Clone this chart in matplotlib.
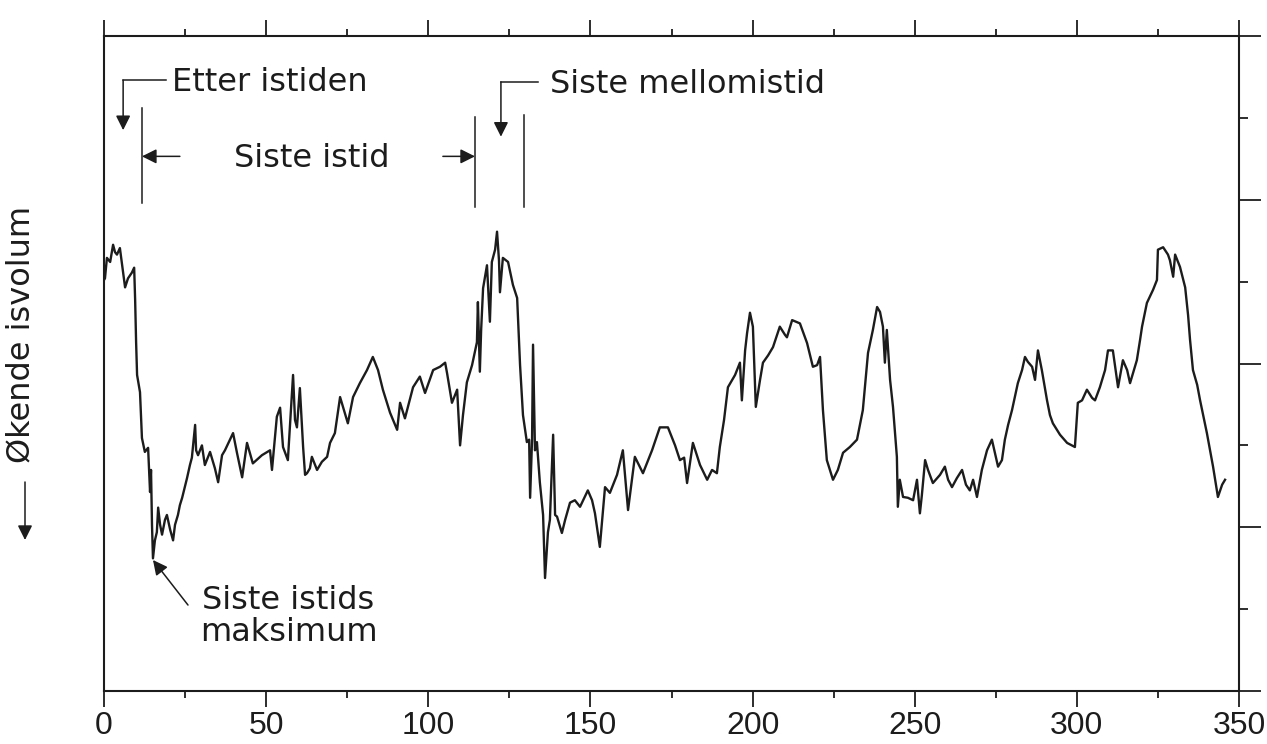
import matplotlib
matplotlib.use("Agg")
import matplotlib.pyplot as plt
from matplotlib.ticker import MultipleLocator

# ---------------- data ----------------
# age in thousand years before present
age_ka = [
    0.0, 0.3, 0.9, 1.9, 2.8, 3.4, 4.0, 4.9, 5.6, 6.5, 7.4, 8.6, 9.3, 9.6, 9.9, 10.2,
    11.1, 11.7, 12.6, 13.6, 14.2, 14.5, 14.8, 15.1, 15.7, 16.3, 16.7, 17.3, 17.9, 18.8,
    19.4, 20.4, 21.3, 21.9, 22.8, 23.4, 24.1, 25.6, 26.5, 27.1, 28.1, 28.4, 29.0, 30.2,
    31.1, 32.7, 34.2, 35.2, 36.4, 37.3, 39.8, 41.0, 42.6, 44.1, 45.9, 48.7, 51.2, 51.8,
    53.3, 54.3, 55.2, 56.7, 58.3, 58.9, 59.5, 60.4, 61.4, 62.0, 62.6, 63.5, 64.1, 65.7,
    67.2, 68.8, 69.7, 71.2, 72.8, 74.0, 75.2, 76.8, 78.9, 81.1, 82.9, 84.5, 86.0, 88.2,
    90.4, 91.3, 92.8, 95.3, 97.4, 99.0, 101.5, 103.6, 105.2, 105.8, 107.3, 108.9, 109.8,
    110.7, 111.9, 113.5, 115.0, 115.3, 115.9, 116.3, 116.9, 118.1, 119.0, 119.6, 120.6,
    121.2, 121.8, 122.1, 123.0, 124.6, 126.1, 127.4, 128.3, 129.2, 130.4, 131.1, 131.4,
    132.0, 132.3, 132.9, 133.5, 134.4, 135.4, 136.0, 136.9, 137.5, 138.5, 139.1, 139.7,
    141.2, 142.2, 143.7, 145.2, 146.8, 149.2, 150.5, 151.4, 152.9, 154.5, 156.0, 158.2,
    160.0, 161.6, 163.7, 166.2, 169.0, 171.4, 173.9, 176.1, 177.6, 178.9, 179.8, 181.6,
    183.8, 186.0, 187.5, 189.0, 189.9, 191.2, 192.4, 194.6, 196.1, 196.7, 197.7, 198.3,
    199.2, 200.1, 201.0, 202.3, 203.2, 204.8, 206.3, 208.4, 210.0, 210.6, 212.2, 214.6,
    216.8, 218.6, 219.9, 220.8, 221.7, 222.9, 224.8, 226.3, 227.9, 230.0, 232.2, 234.0,
    235.6, 237.1, 238.4, 239.3, 240.2, 240.8, 241.4, 242.4, 243.3, 244.5, 244.8, 245.4,
    246.4, 247.9, 249.5, 250.7, 251.6, 252.2, 253.2, 254.1, 255.6, 257.8, 259.3, 260.3,
    261.5, 263.0, 264.6, 265.8, 267.0, 268.0, 269.2, 270.7, 272.3, 273.8, 275.7, 276.9,
    277.8, 278.8, 280.0, 281.8, 283.1, 284.0, 284.9, 286.2, 287.1, 288.0, 289.2, 290.8,
    291.7, 292.6, 294.8, 297.0, 299.4, 300.3, 301.6, 303.1, 304.7, 305.6, 307.1, 308.7,
    309.6, 311.1, 312.7, 314.2, 315.5, 316.4, 318.5, 319.5, 320.1, 321.6, 323.5, 324.7,
    325.0, 326.6, 328.1, 328.7, 329.7, 330.3, 331.8, 333.4, 334.3, 334.9, 335.8, 337.1,
    338.0, 340.1, 342.0, 343.5, 344.8, 345.7,
]
# isotope signal (arbitrary units, downwards = more ice)
signal = [
    5.02, 5.04, 5.29, 5.24, 5.45, 5.36, 5.33, 5.41, 5.20, 4.93, 5.04, 5.11, 5.17, 4.78, 4.26, 3.86,
    3.65, 3.09, 2.92, 2.97, 2.43, 2.70, 2.03, 1.62, 1.84, 1.94, 2.24, 2.03, 1.91, 2.09,
    2.15, 1.97, 1.84, 2.03, 2.15, 2.27, 2.36, 2.60, 2.76, 2.85, 3.25, 2.94, 2.88, 3.00,
    2.76, 2.92, 2.72, 2.55, 2.88, 2.94, 3.15, 2.91, 2.61, 3.03, 2.78, 2.88, 2.94, 2.70,
    3.35, 3.46, 2.98, 2.82, 3.86, 3.31, 3.22, 3.70, 2.98, 2.64, 2.66, 2.72, 2.86, 2.70,
    2.80, 2.86, 3.03, 3.15, 3.59, 3.43, 3.27, 3.59, 3.76, 3.92, 4.08, 3.92, 3.68, 3.40,
    3.19, 3.52, 3.33, 3.71, 3.84, 3.64, 3.92, 3.96, 4.01, 3.88, 3.52, 3.68, 3.00,
    3.37, 3.77, 3.98, 4.26, 4.75, 3.90, 4.41, 4.92, 5.20, 4.51, 5.24, 5.39,
    5.61, 5.26, 4.87, 5.29, 5.24, 4.96, 4.80, 3.98, 3.37, 3.04, 3.07, 2.36,
    3.07, 4.23, 2.94, 3.04, 2.55, 2.15, 1.38, 1.94, 2.09, 3.13, 2.15, 2.13,
    1.93, 2.09, 2.30, 2.33, 2.25, 2.45, 2.33, 2.17, 1.76, 2.49, 2.42, 2.64,
    2.94, 2.21, 2.86, 2.66, 2.94, 3.22, 3.22, 3.00, 2.82, 2.85, 2.54, 3.03,
    2.76, 2.58, 2.70, 2.66, 2.98, 3.31, 3.71, 3.86, 4.01, 3.55, 4.16, 4.37,
    4.62, 4.45, 3.47, 3.80, 4.01, 4.10, 4.20, 4.45, 4.35, 4.32, 4.53, 4.49,
    4.25, 3.96, 3.98, 4.08, 3.43, 2.82, 2.58, 2.70, 2.91, 2.98, 3.07, 3.43,
    4.13, 4.41, 4.69, 4.63, 4.45, 4.01, 4.41, 3.80, 3.47, 2.86, 2.25, 2.58,
    2.37, 2.36, 2.33, 2.58, 2.17, 2.39, 2.82, 2.70, 2.54, 2.64, 2.74, 2.58,
    2.49, 2.60, 2.70, 2.52, 2.45, 2.58, 2.37, 2.70, 2.94, 3.07, 2.74, 2.82,
    3.07, 3.25, 3.43, 3.76, 3.92, 4.08, 4.02, 3.96, 3.80, 4.16, 3.92, 3.55,
    3.37, 3.27, 3.13, 3.03, 2.98, 3.52, 3.55, 3.68, 3.58, 3.55, 3.71, 3.92,
    4.16, 4.16, 3.71, 4.04, 3.92, 3.76, 4.04, 4.29, 4.45, 4.74, 4.90, 5.02,
    5.39, 5.42, 5.33, 5.26, 5.06, 5.33, 5.18, 4.93, 4.59, 4.29, 3.92, 3.74,
    3.55, 3.15, 2.74, 2.37, 2.52, 2.58,
]

x_major = [0, 50, 100, 150, 200, 250, 300, 350]
x_labels = ["0", "50", "100", "150", "200", "250", "300", "350"]

# period markers (ka)
holocene_start = 11.7
glacial_end = 114.4
interglacial_end = 129.5

INK = "#1c1c1c"
W, H = 1267, 744

fig = plt.figure(figsize=(W / 100, H / 100), dpi=100)
fig.patch.set_facecolor("white")
ax = fig.add_axes([104 / W, 1 - 691 / H, (1239 - 104) / W, (691 - 36) / H])

ax.plot(age_ka, signal, color=INK, lw=1.7, solid_joinstyle="round")

ax.set_xlim(0, 350)
ax.set_ylim(0, 8)

for s in ax.spines.values():
    s.set_linewidth(1.5)
    s.set_color(INK)

ax.set_xticks(x_major)
ax.set_xticklabels(x_labels, fontfamily="Liberation Sans", fontsize=23, color=INK)
ax.xaxis.set_minor_locator(MultipleLocator(25))
ax.tick_params(axis="x", which="major", direction="out", length=11.5, width=1.3,
               top=True, bottom=True, pad=3, colors=INK)
ax.tick_params(axis="x", which="minor", direction="out", length=5, width=1.3,
               top=True, bottom=True, colors=INK)

ax.set_yticks([0, 2, 4, 6, 8])
ax.set_yticks([1, 3, 5, 7], minor=True)
ax.tick_params(axis="y", which="major", left=False, right=True, labelleft=False,
               labelright=False, direction="out", length=16, width=1.3, colors=INK)
ax.tick_params(axis="y", which="minor", left=False, right=True, direction="out",
               length=6.5, width=1.3, colors=INK)

FS = 23
lw_ann = 1.1
head = dict(arrowstyle="-|>", color=INK, lw=lw_ann, mutation_scale=22,
            shrinkA=0, shrinkB=0)

# Etter istiden
ax.plot([19.1, 5.9], [7.46, 7.46], color=INK, lw=lw_ann)
ax.annotate("", xy=(5.9, 6.85), xytext=(5.9, 7.46), arrowprops=head)
ax.text(21.0, 7.43, "Etter istiden", fontsize=FS, color=INK, ha="left", va="center")

# Siste istid span
ax.plot([holocene_start, holocene_start], [5.96, 7.12], color=INK, lw=lw_ann)
ax.plot([glacial_end, glacial_end], [5.91, 7.01], color=INK, lw=lw_ann)
ax.plot([interglacial_end, interglacial_end], [5.91, 7.04], color=INK, lw=lw_ann)
ax.annotate("", xy=(holocene_start, 6.53), xytext=(23.4, 6.53), arrowprops=head)
ax.annotate("", xy=(glacial_end, 6.53), xytext=(104.5, 6.53), arrowprops=head)
ax.text(64.1, 6.50, "Siste istid", fontsize=FS, color=INK, ha="center", va="center")

# Siste mellomistid
ax.plot([133.8, 122.4], [7.44, 7.44], color=INK, lw=lw_ann)
ax.annotate("", xy=(122.4, 6.77), xytext=(122.4, 7.44), arrowprops=head)
ax.text(137.5, 7.41, "Siste mellomistid", fontsize=FS, color=INK, ha="left", va="center")

# Siste istids maksimum
ax.annotate("", xy=(15.1, 1.60), xytext=(25.9, 1.05), arrowprops=head)
ax.text(56.7, 1.10, "Siste istids", fontsize=FS, color=INK, ha="center", va="center")
ax.text(56.9, 0.71, "maksimum", fontsize=FS, color=INK, ha="center", va="center")

# y label with arrow
fig.text(21 / W, 1 - 334 / H, "Økende isvolum", rotation=90, fontsize=FS, color=INK,
         ha="center", va="center")
fig.patches.append(matplotlib.patches.FancyArrowPatch(
    (25 / W, 1 - 482 / H), (25 / W, 1 - 540 / H), transform=fig.transFigure,
    arrowstyle="-|>", mutation_scale=22, color=INK, lw=lw_ann, shrinkA=0, shrinkB=0))

fig.savefig("out.png", dpi=100)
